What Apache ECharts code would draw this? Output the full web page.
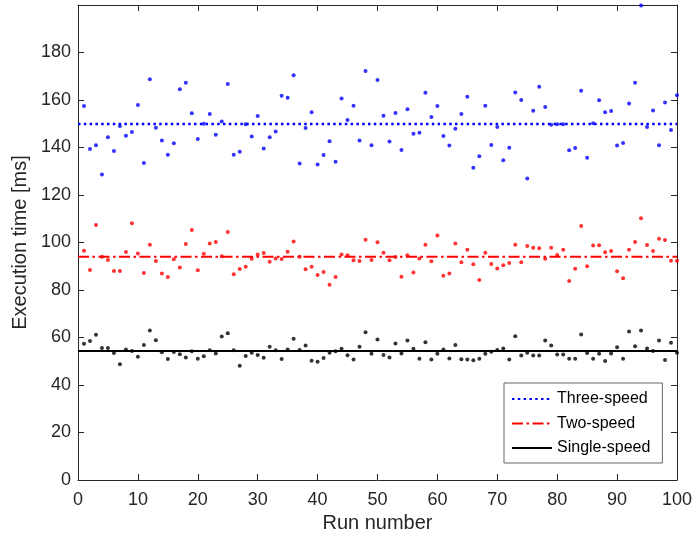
<!DOCTYPE html>
<html>
<head>
<meta charset="utf-8">
<script src="https://cdn.jsdelivr.net/npm/echarts@6/dist/echarts.min.js"></script>
<style>
html,body{margin:0;padding:0;background:#fff;}
#chart{width:695px;height:542px;}
</style>
</head>
<body>
<div id="chart"></div>
<script>
const runs = [1,2,3,4,5,6,7,8,9,10,11,12,13,14,15,16,17,18,19,20,21,22,23,24,25,26,27,28,29,30,31,32,33,34,35,36,37,38,39,40,41,42,43,44,45,46,47,48,49,50,51,52,53,54,55,56,57,58,59,60,61,62,63,64,65,66,67,68,69,70,71,72,73,74,75,76,77,78,79,80,81,82,83,84,85,86,87,88,89,90,91,92,93,94,95,96,97,98,99,100];

const threeSpeed = [157.5,139.4,140.9,128.6,144.3,138.5,149.1,145.0,146.5,157.9,
133.5,168.7,148.3,142.9,137.0,141.8,164.5,167.3,154.4,143.6,
150.0,154.1,145.4,150.9,166.7,137.0,138.2,149.8,144.6,153.3,
139.6,144.3,146.7,161.8,161.0,170.4,133.3,148.2,154.8,132.8,
136.8,142.6,134.0,160.6,151.6,157.6,143.0,172.2,140.9,168.4,
153.4,142.5,154.5,138.9,156.1,145.8,146.2,163.1,152.8,157.5,
144.8,140.8,147.9,154.1,161.4,131.5,136.3,157.6,141.1,148.6,
134.6,139.9,163.2,160.0,127.0,155.5,165.6,157.1,149.6,149.8,
149.8,138.8,139.8,163.9,135.7,150.2,159.9,154.8,155.4,140.8,
141.9,158.5,167.3,199.8,148.6,155.6,140.9,159.0,147.4,162.0];

const twoSpeed = [96.5,88.4,107.4,94.0,92.6,88.0,88.0,96.0,108.1,95.4,
87.2,99.1,92.2,87.0,85.5,92.9,89.5,99.4,105.3,88.3,
95.3,99.6,100.2,94.2,104.4,86.6,88.8,89.8,93.2,94.9,
95.6,91.9,93.3,93.1,96.1,100.4,94.0,88.7,89.8,86.3,
87.6,82.2,85.5,95.0,94.6,92.5,92.2,101.2,92.6,100.1,
95.7,92.5,93.9,85.6,94.6,87.4,93.3,99.1,92.1,102.9,
86.0,87.0,99.6,91.7,97.0,90.8,84.2,95.7,90.9,89.1,
90.4,91.4,99.1,91.7,98.5,97.8,97.6,93.2,97.8,94.7,
97.0,83.8,89.0,106.9,90.0,98.7,98.8,95.9,96.4,87.9,
84.9,97.0,100.2,110.2,98.9,96.4,101.6,101.1,92.3,92.3];

const singleSpeed = [57.4,58.5,61.2,55.6,55.6,53.5,48.7,54.9,54.3,51.9,
56.8,62.9,58.8,53.8,50.9,53.9,52.9,51.6,54.2,51.1,
52.1,54.6,53.3,60.4,61.8,54.6,48.1,52.2,53.6,52.6,
51.5,56.1,54.6,50.9,54.9,59.5,54.7,56.6,50.2,49.8,
51.4,53.6,54.2,55.3,52.5,50.7,56.1,62.2,53.2,59.2,
52.6,51.6,57.5,53.3,58.7,55.3,51.1,58.0,50.7,53.2,
54.9,51.2,56.8,50.8,50.7,50.4,51.1,53.2,54.0,54.7,
55.4,50.7,60.5,52.4,53.6,52.4,52.4,58.7,56.6,52.8,
52.8,51.1,51.1,61.3,53.5,51.1,53.2,50.1,53.3,55.9,
51.1,62.5,56.3,62.9,55.4,54.3,58.7,50.5,57.8,53.6];

const meanThree = 149.9;
const meanTwo = 94.0;
const meanSingle = 54.3;
const xRange = [0, 100];
const seriesNames = ['Three-speed', 'Two-speed', 'Single-speed'];

const pts = (vals) => runs.map((r, i) => [r, vals[i]]);
const hline = (v) => [[xRange[0], v], [xRange[1], v]];

const FONT = '"Liberation Sans", Arial, Helvetica, sans-serif';
const AX = '#262626';

const chart = echarts.init(document.getElementById('chart'), null, {renderer: 'canvas'});

const commonScatter = {type: 'scatter', symbolSize: 4, symbol: 'circle', z: 2, silent: true};

chart.setOption({
  animation: false,
  backgroundColor: '#fff',
  grid: {left: 78, right: 15.5, top: 5, bottom: 62, containLabel: false},
  legend: {
    data: seriesNames,
    orient: 'vertical',
    left: 504, top: 383,
    padding: [8, 12, 7, 7],
    itemWidth: 40, itemHeight: 14, itemGap: 8.5,
    backgroundColor: '#fff',
    borderColor: '#666', borderWidth: 1,
    itemStyle: {opacity: 0},
    textStyle: {fontFamily: FONT, fontSize: 16, color: '#000'}
  },
  xAxis: [{
    type: 'value', min: 0, max: 100, interval: 10,
    name: 'Run number', nameLocation: 'middle', nameGap: 33,
    nameTextStyle: {fontFamily: FONT, fontSize: 20, color: AX},
    axisLine: {show: true, onZero: false, lineStyle: {color: AX, width: 1}},
    axisTick: {show: true, inside: true, length: 6, lineStyle: {color: AX}},
    axisLabel: {fontFamily: FONT, fontSize: 18, color: AX, margin: 11},
    splitLine: {show: false}
  }, {
    type: 'value', position: 'top', min: 0, max: 100, interval: 10,
    axisLine: {show: true, onZero: false, lineStyle: {color: AX, width: 1}},
    axisTick: {show: true, inside: true, length: 6, lineStyle: {color: AX}},
    axisLabel: {show: false}, splitLine: {show: false}
  }],
  yAxis: [{
    type: 'value', min: 0, max: 200, interval: 20,
    name: 'Execution time [ms]', nameLocation: 'middle', nameGap: 43,
    nameTextStyle: {fontFamily: FONT, fontSize: 20, color: AX},
    axisLine: {show: true, onZero: false, lineStyle: {color: AX, width: 1}},
    axisTick: {show: true, inside: true, length: 6, lineStyle: {color: AX}},
    axisLabel: {fontFamily: FONT, fontSize: 18, color: AX, margin: 7, showMaxLabel: false},
    splitLine: {show: false}
  }, {
    type: 'value', position: 'right', min: 0, max: 200, interval: 20,
    axisLine: {show: true, onZero: false, lineStyle: {color: AX, width: 1}},
    axisTick: {show: true, inside: true, length: 6, lineStyle: {color: AX}},
    axisLabel: {show: false}, splitLine: {show: false}
  }],
  series: [
    Object.assign({}, commonScatter, {name: 'pts3', data: pts(threeSpeed), itemStyle: {color: '#0000ff'}}),
    Object.assign({}, commonScatter, {name: 'pts2', data: pts(twoSpeed), itemStyle: {color: '#ff0000'}}),
    Object.assign({}, commonScatter, {name: 'pts1', data: pts(singleSpeed), itemStyle: {color: '#000000'}}),
    {type: 'line', name: seriesNames[0], data: hline(meanThree), symbol: 'none', showSymbol: false, z: 3,
     color: '#0000ff', lineStyle: {color: '#0000ff', width: 2.5, type: [2.5, 3.3]}},
    {type: 'line', name: seriesNames[1], data: hline(meanTwo), symbol: 'none', showSymbol: false, z: 3,
     color: '#ff0000', lineStyle: {color: '#ff0000', width: 2.2, type: [11, 3.5, 2.5, 3.5]}},
    {type: 'line', name: seriesNames[2], data: hline(meanSingle), symbol: 'none', showSymbol: false, z: 3,
     color: '#000000', lineStyle: {color: '#000000', width: 2}}
  ]
});
</script>
</body>
</html>
